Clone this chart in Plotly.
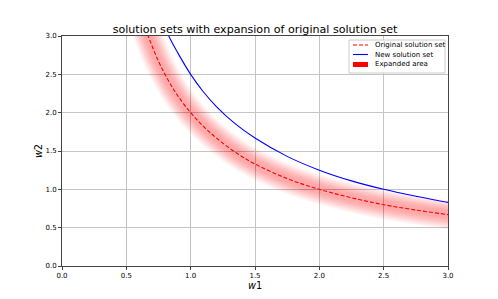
import plotly.graph_objects as go

# Data
w1_orig = [0.50, 0.55, 0.60, 0.67, 0.75, 0.83, 0.90, 1.00, 1.10, 1.20, 1.35, 1.50,
           1.75, 2.00, 2.25, 2.50, 2.75, 3.00, 3.10]
w2_orig = [4.00, 3.64, 3.33, 3.00, 2.67, 2.41, 2.22, 2.00, 1.82, 1.67, 1.48, 1.33,
           1.14, 1.00, 0.89, 0.80, 0.73, 0.67, 0.65]

w1_new = [0.70, 0.77, 0.83, 0.90, 1.00, 1.10, 1.20, 1.35, 1.50, 1.75, 2.00, 2.25,
          2.50, 2.75, 3.00, 3.10]
w2_new = [3.57, 3.25, 3.00, 2.78, 2.50, 2.27, 2.08, 1.85, 1.67, 1.43, 1.25, 1.11,
          1.00, 0.91, 0.83, 0.81]

x_ticks = [0.0, 0.5, 1.0, 1.5, 2.0, 2.5, 3.0]
y_ticks = [0.0, 0.5, 1.0, 1.5, 2.0, 2.5, 3.0]

legend_labels = ["Original solution set", "New solution set", "Expanded area"]

FONT = "DejaVu Sans"
W, H = 498, 299
PX0, PX1, PY0, PY1 = 62, 448, 36, 266  # plot area in pixels


def px(x):
    return (x - PX0) / (PX1 - PX0)


def py(y):
    return (PY1 - y) / (PY1 - PY0)


fig = go.Figure()

# Expanded area: stacked translucent strokes around the original curve
for lw in range(8, 31):
    fig.add_trace(go.Scatter(
        x=w1_orig, y=w2_orig, mode="lines", line_shape="spline",
        line=dict(color="rgba(255,0,0,0.014)", width=lw),
        showlegend=False, hoverinfo="skip"))

fig.add_trace(go.Scatter(
    x=w1_orig, y=w2_orig, mode="lines", line_shape="spline",
    line=dict(color="#ff0000", width=1.1, dash="4px,2px"),
    name=legend_labels[0], showlegend=False))
fig.add_trace(go.Scatter(
    x=w1_new, y=w2_new, mode="lines", line_shape="spline",
    line=dict(color="#0000ff", width=1.1),
    name=legend_labels[1], showlegend=False))

axis_common = dict(
    showline=True, mirror=True, linecolor="#444444", linewidth=1,
    ticks="outside", ticklen=3, tickcolor="#444444", tickwidth=1,
    showgrid=True, gridcolor="#c4c4c4", gridwidth=1,
    zeroline=False, tickfont=dict(family=FONT, size=7, color="#000"),
    tickformat=".1f", automargin=False,
)
fig.update_xaxes(range=[0, 3], tickvals=x_ticks, **axis_common,
                 title=dict(text="<i>w</i>1", font=dict(family=FONT, size=9.7, color="#000"),
                            standoff=1))
fig.update_yaxes(range=[0, 3], tickvals=y_ticks, **axis_common,
                 title=dict(text="<i>w</i>2", font=dict(family=FONT, size=9.7, color="#000"),
                            standoff=1))

# Custom legend (matplotlib-like compact box)
shapes = [dict(type="rect", xref="paper", yref="paper",
               x0=px(349), x1=px(445), y0=py(73), y1=py(40),
               line=dict(color="#cccccc", width=1), fillcolor="rgba(255,255,255,0.85)",
               layer="above")]
rows = [45, 54.5, 64.5]
shapes.append(dict(type="line", xref="paper", yref="paper",
                   x0=px(353), x1=px(368), y0=py(rows[0]), y1=py(rows[0]),
                   line=dict(color="#ff0000", width=1.1, dash="4px,2px"), layer="above"))
shapes.append(dict(type="line", xref="paper", yref="paper",
                   x0=px(353), x1=px(368), y0=py(rows[1]), y1=py(rows[1]),
                   line=dict(color="#0000ff", width=1.1), layer="above"))
shapes.append(dict(type="rect", xref="paper", yref="paper",
                   x0=px(353), x1=px(368), y0=py(rows[2] + 2.5), y1=py(rows[2] - 2.5),
                   line=dict(width=0), fillcolor="#ff0000", layer="above"))
annotations = [dict(text=t, xref="paper", yref="paper", x=px(373), y=py(r),
                    xanchor="left", yanchor="middle", showarrow=False,
                    font=dict(family=FONT, size=7, color="#000"))
               for t, r in zip(legend_labels, rows)]

fig.update_layout(
    width=W, height=H,
    margin=dict(l=PX0, r=W - PX1, t=PY0, b=H - PY1, autoexpand=False),
    paper_bgcolor="white", plot_bgcolor="white",
    title=dict(text="solution sets with expansion of original solution set",
               font=dict(family=FONT, size=11.1, color="#000"),
               x=(PX0 + PX1) / 2 / W, xanchor="center",
               y=1 - 33 / H, yanchor="bottom", yref="container"),
    shapes=shapes, annotations=annotations,
    showlegend=False,
)

fig.write_html("out.html", config={"displayModeBar": False},
               post_script="document.body.style.margin='0';")
